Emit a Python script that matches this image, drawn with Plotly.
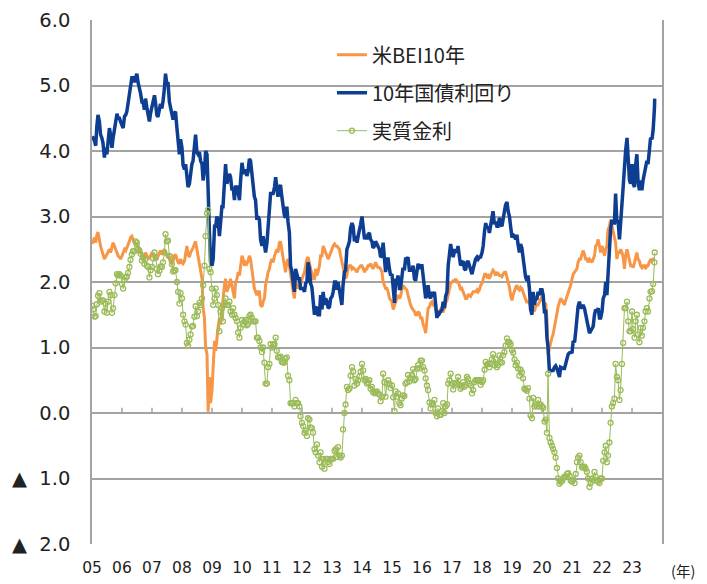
import pandas as pd
import plotly.graph_objects as go

# ---------------- labels ----------------
year_labels = ["05", "06", "07", "08", "09", "10", "11", "12", "13", "14",
               "15", "16", "17", "18", "19", "20", "21", "22", "23"]
y_tick_vals = [6, 5, 4, 3, 2, 1, 0, -1, -2]
y_tick_text = ["6.0", "5.0", "4.0", "3.0", "2.0", "1.0", "0.0", "▲  1.0", "▲  2.0"]
series_names = ["米BEI10年", "10年国債利回り", "実質金利"]

# ---------------- 10年国債利回り (semi-monthly, %) ----------------
nom_2005 = [4.22, 4.20, 4.15, 4.08, 4.38, 4.55, 4.45, 4.25, 4.20, 4.12, 3.90, 4.05, 3.95, 4.15, 4.35, 4.25, 4.05, 4.20, 4.35, 4.48, 4.57, 4.50, 4.50, 4.45]
nom_2006 = [4.37, 4.35, 4.53, 4.55, 4.60, 4.72, 4.85, 5.02, 5.12, 5.12, 5.05, 5.12, 5.18, 5.05, 4.98, 4.88, 4.75, 4.75, 4.63, 4.80, 4.65, 4.58, 4.45, 4.58]
nom_2007 = [4.68, 4.78, 4.85, 4.72, 4.55, 4.52, 4.62, 4.72, 4.65, 4.75, 4.95, 5.18, 5.02, 5.05, 4.75, 4.68, 4.55, 4.48, 4.58, 4.60, 4.35, 4.15, 3.95, 4.18]
nom_2008 = [4.05, 3.78, 3.72, 3.80, 3.62, 3.45, 3.50, 3.65, 3.80, 3.85, 4.05, 4.25, 3.98, 3.95, 3.98, 3.85, 3.80, 3.55, 3.70, 4.00, 3.95, 3.15, 2.75, 2.30]
nom_2009 = [2.25, 2.35, 2.85, 2.85, 3.00, 2.95, 2.70, 2.90, 3.15, 3.15, 3.60, 3.80, 3.50, 3.55, 3.65, 3.60, 3.40, 3.45, 3.25, 3.45, 3.45, 3.38, 3.25, 3.55]
nom_2010 = [3.82, 3.70, 3.65, 3.72, 3.62, 3.68, 3.88, 3.85, 3.65, 3.45, 3.30, 3.25, 2.95, 3.00, 2.95, 2.65, 2.55, 2.70, 2.52, 2.45, 2.60, 2.85, 2.95, 3.35]
nom_2011 = [3.35, 3.35, 3.45, 3.60, 3.45, 3.30, 3.45, 3.48, 3.30, 3.15, 3.02, 2.98, 3.15, 2.92, 2.75, 2.25, 2.15, 2.00, 1.85, 2.20, 2.10, 2.05, 2.05, 1.90]
nom_2012 = [1.90, 1.90, 1.85, 1.98, 2.00, 2.30, 2.20, 1.98, 1.92, 1.75, 1.50, 1.60, 1.62, 1.50, 1.50, 1.80, 1.58, 1.85, 1.65, 1.75, 1.70, 1.60, 1.62, 1.75]
nom_2013 = [1.78, 1.85, 2.00, 2.00, 1.88, 2.00, 1.85, 1.72, 1.65, 1.95, 2.15, 2.18, 2.50, 2.55, 2.62, 2.82, 2.90, 2.85, 2.62, 2.70, 2.60, 2.70, 2.78, 2.88]
nom_2014 = [3.00, 2.85, 2.65, 2.72, 2.65, 2.72, 2.75, 2.65, 2.62, 2.52, 2.55, 2.62, 2.58, 2.52, 2.50, 2.38, 2.40, 2.60, 2.42, 2.15, 2.35, 2.35, 2.20, 2.10]
nom_2015 = [2.12, 1.82, 1.68, 2.05, 2.00, 2.10, 1.90, 1.90, 2.10, 2.22, 2.18, 2.35, 2.35, 2.38, 2.18, 2.18, 2.18, 2.25, 2.05, 2.02, 2.18, 2.28, 2.20, 2.25]
nom_2016 = [2.25, 2.05, 1.95, 1.75, 1.82, 1.95, 1.78, 1.75, 1.85, 1.78, 1.85, 1.60, 1.45, 1.55, 1.52, 1.55, 1.58, 1.70, 1.60, 1.78, 1.85, 2.25, 2.40, 2.58]
nom_2017 = [2.45, 2.38, 2.48, 2.48, 2.45, 2.55, 2.38, 2.25, 2.30, 2.32, 2.20, 2.18, 2.30, 2.32, 2.25, 2.20, 2.12, 2.20, 2.32, 2.35, 2.38, 2.35, 2.38, 2.38]
nom_2018 = [2.45, 2.55, 2.78, 2.90, 2.82, 2.85, 2.75, 2.85, 2.97, 3.08, 2.88, 2.92, 2.85, 2.85, 2.98, 2.88, 2.85, 3.00, 3.08, 3.18, 3.22, 3.08, 3.00, 2.85]
nom_2019 = [2.68, 2.72, 2.70, 2.65, 2.72, 2.58, 2.45, 2.58, 2.52, 2.38, 2.15, 2.08, 2.02, 2.10, 1.90, 1.58, 1.50, 1.85, 1.65, 1.75, 1.75, 1.85, 1.80, 1.88]
nom_2020 = [1.88, 1.80, 1.52, 1.58, 1.15, 1.00, 0.62, 0.65, 0.65, 0.65, 0.70, 0.72, 0.68, 0.62, 0.55, 0.70, 0.68, 0.68, 0.68, 0.75, 0.85, 0.90, 0.92, 0.92]
nom_2021 = [0.93, 1.10, 1.08, 1.25, 1.45, 1.62, 1.70, 1.60, 1.62, 1.65, 1.60, 1.50, 1.45, 1.30, 1.22, 1.25, 1.30, 1.32, 1.50, 1.58, 1.55, 1.60, 1.45, 1.45]
nom_2022 = [1.55, 1.75, 1.80, 2.00, 1.80, 2.15, 2.40, 2.80, 2.95, 2.90, 2.90, 3.35, 2.90, 2.95, 2.65, 2.85, 3.20, 3.45, 3.80, 4.00, 4.20, 3.80, 3.55, 3.50]
nom_2023 = [3.80, 3.50, 3.45, 3.80, 3.95, 3.55, 3.40, 3.55, 3.40, 3.55, 3.65, 3.75, 3.85, 3.80, 4.05, 4.20, 4.18, 4.32, 4.65, 4.80]

# ---------------- 米BEI10年 ----------------
bei_2005 = [2.58, 2.62, 2.68, 2.60, 2.72, 2.76, 2.62, 2.55, 2.48, 2.40, 2.35, 2.38, 2.42, 2.45, 2.50, 2.45, 2.52, 2.60, 2.55, 2.50, 2.45, 2.40, 2.38, 2.35]
bei_2006 = [2.40, 2.45, 2.50, 2.48, 2.52, 2.58, 2.62, 2.68, 2.70, 2.65, 2.58, 2.55, 2.60, 2.55, 2.50, 2.45, 2.42, 2.38, 2.35, 2.45, 2.40, 2.35, 2.38, 2.40]
bei_2007 = [2.45, 2.42, 2.40, 2.35, 2.35, 2.40, 2.45, 2.48, 2.42, 2.45, 2.50, 2.45, 2.40, 2.42, 2.35, 2.30, 2.28, 2.32, 2.40, 2.42, 2.35, 2.30, 2.28, 2.35]
bei_2008 = [2.30, 2.28, 2.32, 2.45, 2.55, 2.42, 2.38, 2.45, 2.48, 2.52, 2.58, 2.62, 2.50, 2.40, 2.30, 2.20, 2.05, 1.60, 1.45, 1.00, 0.90, 0.02, 0.55, 0.15]
bei_2009 = [0.35, 0.70, 1.10, 0.95, 1.20, 1.30, 1.45, 1.35, 1.55, 1.75, 1.95, 2.05, 1.85, 1.90, 1.95, 2.05, 1.90, 1.85, 1.75, 2.00, 2.05, 2.15, 2.10, 2.25]
bei_2010 = [2.40, 2.35, 2.25, 2.30, 2.28, 2.32, 2.40, 2.35, 2.20, 2.05, 1.90, 1.85, 1.80, 1.85, 1.85, 1.65, 1.62, 1.70, 1.75, 1.95, 2.10, 2.15, 2.20, 2.30]
bei_2011 = [2.35, 2.30, 2.40, 2.45, 2.50, 2.45, 2.60, 2.62, 2.52, 2.38, 2.25, 2.15, 2.30, 2.35, 2.25, 2.10, 2.00, 1.85, 1.75, 2.00, 1.95, 1.90, 1.95, 1.95]
bei_2012 = [2.05, 2.10, 2.15, 2.25, 2.35, 2.38, 2.30, 2.20, 2.15, 2.05, 2.05, 2.20, 2.10, 2.15, 2.25, 2.40, 2.40, 2.55, 2.50, 2.45, 2.40, 2.35, 2.40, 2.45]
bei_2013 = [2.48, 2.55, 2.58, 2.55, 2.55, 2.52, 2.50, 2.40, 2.30, 2.20, 2.15, 2.05, 2.10, 2.20, 2.25, 2.25, 2.20, 2.22, 2.20, 2.18, 2.15, 2.20, 2.22, 2.25]
bei_2014 = [2.25, 2.20, 2.15, 2.20, 2.20, 2.25, 2.25, 2.28, 2.22, 2.20, 2.25, 2.30, 2.25, 2.22, 2.22, 2.20, 2.15, 2.00, 1.95, 1.90, 1.90, 1.85, 1.75, 1.72]
bei_2015 = [1.70, 1.58, 1.65, 1.72, 1.75, 1.80, 1.75, 1.78, 1.88, 1.95, 1.92, 1.90, 1.88, 1.80, 1.70, 1.65, 1.60, 1.58, 1.55, 1.50, 1.50, 1.55, 1.52, 1.45]
bei_2016 = [1.45, 1.35, 1.30, 1.22, 1.40, 1.60, 1.62, 1.68, 1.70, 1.65, 1.65, 1.60, 1.50, 1.48, 1.55, 1.58, 1.55, 1.55, 1.60, 1.68, 1.72, 1.80, 1.90, 1.98]
bei_2017 = [2.00, 2.02, 2.02, 2.05, 2.00, 2.00, 1.95, 1.88, 1.90, 1.85, 1.80, 1.75, 1.75, 1.80, 1.80, 1.78, 1.82, 1.85, 1.85, 1.85, 1.88, 1.85, 1.88, 1.95]
bei_2018 = [1.98, 2.05, 2.12, 2.12, 2.08, 2.10, 2.05, 2.10, 2.15, 2.18, 2.15, 2.10, 2.15, 2.12, 2.10, 2.10, 2.08, 2.12, 2.15, 2.15, 2.08, 2.00, 1.92, 1.80]
bei_2019 = [1.72, 1.80, 1.88, 1.92, 1.95, 1.90, 1.88, 1.92, 1.90, 1.85, 1.78, 1.72, 1.68, 1.72, 1.68, 1.62, 1.58, 1.62, 1.55, 1.62, 1.65, 1.65, 1.70, 1.75]
bei_2020 = [1.78, 1.72, 1.65, 1.68, 1.45, 0.90, 1.00, 1.10, 1.15, 1.20, 1.30, 1.40, 1.52, 1.62, 1.70, 1.75, 1.72, 1.68, 1.65, 1.72, 1.78, 1.82, 1.88, 1.95]
bei_2021 = [2.05, 2.12, 2.15, 2.18, 2.20, 2.30, 2.35, 2.35, 2.45, 2.48, 2.42, 2.35, 2.35, 2.30, 2.35, 2.32, 2.30, 2.35, 2.40, 2.55, 2.58, 2.65, 2.52, 2.45]
bei_2022 = [2.55, 2.48, 2.40, 2.50, 2.55, 2.80, 2.85, 2.95, 2.85, 2.75, 2.68, 2.60, 2.35, 2.45, 2.45, 2.50, 2.45, 2.38, 2.20, 2.40, 2.50, 2.40, 2.30, 2.25]
bei_2023 = [2.25, 2.22, 2.30, 2.40, 2.45, 2.35, 2.32, 2.25, 2.22, 2.25, 2.25, 2.20, 2.25, 2.25, 2.30, 2.35, 2.32, 2.35, 2.35, 2.35]

# ---------------- 実質金利 ----------------
real_2005 = [1.64, 1.58, 1.47, 1.48, 1.66, 1.79, 1.83, 1.70, 1.72, 1.72, 1.55, 1.67, 1.53, 1.70, 1.85, 1.80, 1.53, 1.60, 1.80, 1.98, 2.12, 2.10, 2.12, 2.10]
real_2006 = [1.97, 1.90, 2.03, 2.07, 2.08, 2.14, 2.23, 2.34, 2.42, 2.47, 2.47, 2.62, 2.60, 2.50, 2.48, 2.43, 2.33, 2.37, 2.28, 2.35, 2.25, 2.23, 2.07, 2.18]
real_2007 = [2.23, 2.36, 2.45, 2.37, 2.20, 2.12, 2.17, 2.24, 2.23, 2.30, 2.45, 2.73, 2.62, 2.63, 2.40, 2.38, 2.27, 2.16, 2.18, 2.18, 2.00, 1.85, 1.67, 1.83]
real_2008 = [1.75, 1.50, 1.40, 1.35, 1.07, 1.03, 1.12, 1.20, 1.32, 1.33, 1.47, 1.63, 1.48, 1.55, 1.68, 1.65, 1.75, 1.95, 2.25, 2.70, 3.05, 3.10, 2.20, 2.15]
real_2009 = [1.90, 1.65, 1.75, 1.90, 1.80, 1.65, 1.25, 1.55, 1.60, 1.40, 1.65, 1.75, 1.65, 1.65, 1.70, 1.55, 1.50, 1.60, 1.50, 1.45, 1.40, 1.23, 1.15, 1.30]
real_2010 = [1.42, 1.35, 1.40, 1.42, 1.34, 1.36, 1.48, 1.50, 1.45, 1.40, 1.40, 1.40, 1.15, 1.15, 1.10, 1.00, 0.93, 1.00, 0.77, 0.45, 0.45, 0.70, 0.75, 1.05]
real_2011 = [1.00, 1.05, 1.05, 1.15, 0.95, 0.85, 0.85, 0.86, 0.78, 0.77, 0.77, 0.83, 0.85, 0.57, 0.50, 0.15, 0.15, 0.15, 0.10, 0.20, 0.15, 0.15, 0.10, -0.05]
real_2012 = [-0.15, -0.20, -0.30, -0.27, -0.35, -0.08, -0.10, -0.22, -0.23, -0.30, -0.55, -0.60, -0.48, -0.65, -0.75, -0.60, -0.82, -0.70, -0.85, -0.70, -0.70, -0.75, -0.78, -0.70]
real_2013 = [-0.70, -0.70, -0.58, -0.55, -0.67, -0.52, -0.65, -0.68, -0.65, -0.25, 0.00, 0.13, 0.40, 0.35, 0.37, 0.57, 0.70, 0.63, 0.42, 0.52, 0.45, 0.50, 0.56, 0.63]
real_2014 = [0.75, 0.65, 0.50, 0.52, 0.45, 0.47, 0.50, 0.37, 0.40, 0.32, 0.30, 0.32, 0.33, 0.30, 0.28, 0.18, 0.25, 0.60, 0.47, 0.25, 0.45, 0.50, 0.45, 0.38]
real_2015 = [0.42, 0.24, 0.03, 0.33, 0.25, 0.30, 0.15, 0.12, 0.22, 0.27, 0.26, 0.45, 0.47, 0.58, 0.48, 0.53, 0.58, 0.67, 0.50, 0.52, 0.68, 0.73, 0.68, 0.80]
real_2016 = [0.80, 0.70, 0.65, 0.53, 0.42, 0.35, 0.16, 0.07, 0.15, 0.13, 0.20, 0.00, -0.05, 0.07, -0.03, -0.03, 0.03, 0.15, 0.00, 0.10, 0.13, 0.45, 0.50, 0.60]
real_2017 = [0.45, 0.36, 0.46, 0.43, 0.45, 0.55, 0.43, 0.37, 0.40, 0.47, 0.40, 0.43, 0.55, 0.52, 0.45, 0.42, 0.30, 0.35, 0.47, 0.50, 0.50, 0.50, 0.50, 0.43]
real_2018 = [0.47, 0.50, 0.66, 0.78, 0.74, 0.75, 0.70, 0.75, 0.82, 0.90, 0.73, 0.82, 0.70, 0.73, 0.88, 0.78, 0.77, 0.88, 0.93, 1.03, 1.14, 1.08, 1.08, 1.05]
real_2019 = [0.96, 0.92, 0.82, 0.73, 0.77, 0.68, 0.57, 0.66, 0.62, 0.53, 0.37, 0.36, 0.34, 0.38, 0.22, -0.04, -0.08, 0.23, 0.10, 0.13, 0.10, 0.20, 0.10, 0.13]
real_2020 = [0.10, 0.08, -0.13, -0.10, -0.30, 0.60, -0.38, -0.45, -0.50, -0.55, -0.60, -0.68, -0.84, -1.00, -1.08, -1.05, -1.04, -1.00, -0.97, -0.97, -0.93, -0.92, -0.96, -1.03]
real_2021 = [-1.05, -1.02, -1.07, -0.93, -0.75, -0.68, -0.65, -0.75, -0.83, -0.83, -0.82, -0.85, -0.90, -1.00, -1.13, -1.07, -1.00, -1.03, -0.90, -0.97, -1.03, -1.05, -1.07, -1.00]
real_2022 = [-1.00, -0.73, -0.60, -0.50, -0.75, -0.65, -0.45, -0.15, 0.10, 0.15, 0.22, 0.75, 0.55, 0.50, 0.20, 0.35, 0.75, 1.07, 1.60, 1.60, 1.70, 1.40, 1.25, 1.25]
real_2023 = [1.55, 1.28, 1.15, 1.40, 1.50, 1.20, 1.08, 1.30, 1.18, 1.30, 1.40, 1.55, 1.60, 1.55, 1.75, 1.85, 1.86, 1.97, 2.30, 2.45]

nominal = (nom_2005 + nom_2006 + nom_2007 + nom_2008 + nom_2009 + nom_2010 + nom_2011
           + nom_2012 + nom_2013 + nom_2014 + nom_2015 + nom_2016 + nom_2017 + nom_2018
           + nom_2019 + nom_2020 + nom_2021 + nom_2022 + nom_2023)
bei = (bei_2005 + bei_2006 + bei_2007 + bei_2008 + bei_2009 + bei_2010 + bei_2011
       + bei_2012 + bei_2013 + bei_2014 + bei_2015 + bei_2016 + bei_2017 + bei_2018
       + bei_2019 + bei_2020 + bei_2021 + bei_2022 + bei_2023)
real = (real_2005 + real_2006 + real_2007 + real_2008 + real_2009 + real_2010 + real_2011
        + real_2012 + real_2013 + real_2014 + real_2015 + real_2016 + real_2017 + real_2018
        + real_2019 + real_2020 + real_2021 + real_2022 + real_2023)

# observation dates: 1st and 15th of each month, last print on 2023-10-04
dates = list(pd.date_range("2005-01-01", "2023-10-01", freq="SMS")) + [pd.Timestamp("2023-10-04")]

ORANGE = "#F79646"
BLUE = "#0D3E92"
GREEN = "#9BBB59"
GRID = "#a3a3a3"

fig = go.Figure()
fig.add_trace(go.Scatter(x=dates, y=bei, mode="lines", name=series_names[0],
                         legendgroup="a", line=dict(color=ORANGE, width=3)))
fig.add_trace(go.Scatter(x=dates, y=nominal, mode="lines", name=series_names[1],
                         legendgroup="b", line=dict(color=BLUE, width=3.5)))
fig.add_trace(go.Scatter(x=dates, y=real, mode="lines+markers", name=series_names[2],
                         legendgroup="c", line=dict(color=GREEN, width=1),
                         marker=dict(symbol="circle-open", size=5, color=GREEN,
                                     line=dict(width=1.3, color=GREEN))))

tick_dates = [f"20{y}-01-01" for y in year_labels]

# small upward tick marks on the 0.0 line at each year boundary
shapes = []
for d in tick_dates[1:]:
    shapes.append(dict(type="line", xref="x", yref="y", x0=d, x1=d, y0=0, y1=0.08,
                       line=dict(color=GRID, width=1.5), layer="below"))

# the page body adds an 8px offset, so the figure is 699x576 with margins shifted by 8px
fig.update_layout(
    width=699, height=576,
    margin=dict(l=84, r=45, t=12, b=40, autoexpand=False),
    paper_bgcolor="white", plot_bgcolor="white",
    font=dict(family="DejaVu Sans, Verdana, sans-serif", color="#222"),
    showlegend=True,
    legend=dict(x=0.421, y=0.971, xanchor="left", yanchor="top",
                bgcolor="rgba(255,255,255,0)", traceorder="grouped",
                tracegroupgap=9,
                font=dict(family="Noto Sans CJK JP", size=20, color="#222")),
    shapes=shapes,
    annotations=[dict(text="(年)", xref="paper", yref="paper", x=1.037, y=-0.05,
                      xanchor="center", yanchor="middle", showarrow=False,
                      font=dict(family="Noto Sans CJK JP", size=14.5, color="#222"))],
)
fig.update_xaxes(type="date", range=["2005-01-01", "2024-01-01"],
                 tickvals=tick_dates, ticktext=year_labels, automargin=False,
                 showgrid=False, showline=False, zeroline=False, ticks="",
                 ticklabelstandoff=12,
                 tickfont=dict(family="DejaVu Sans", size=15.5, color="#222"))
fig.update_yaxes(range=[-2, 6], tickvals=y_tick_vals, ticktext=y_tick_text,
                 showgrid=True, gridcolor=GRID, gridwidth=1.5, zeroline=False,
                 showline=True, linecolor=GRID, linewidth=1.5, mirror=True,
                 ticks="", ticklabelstandoff=16, automargin=False,
                 ticklabeloverflow="allow",
                 tickfont=dict(family="DejaVu Sans", size=19.5, color="#222"))

fig.write_html("out.html")
